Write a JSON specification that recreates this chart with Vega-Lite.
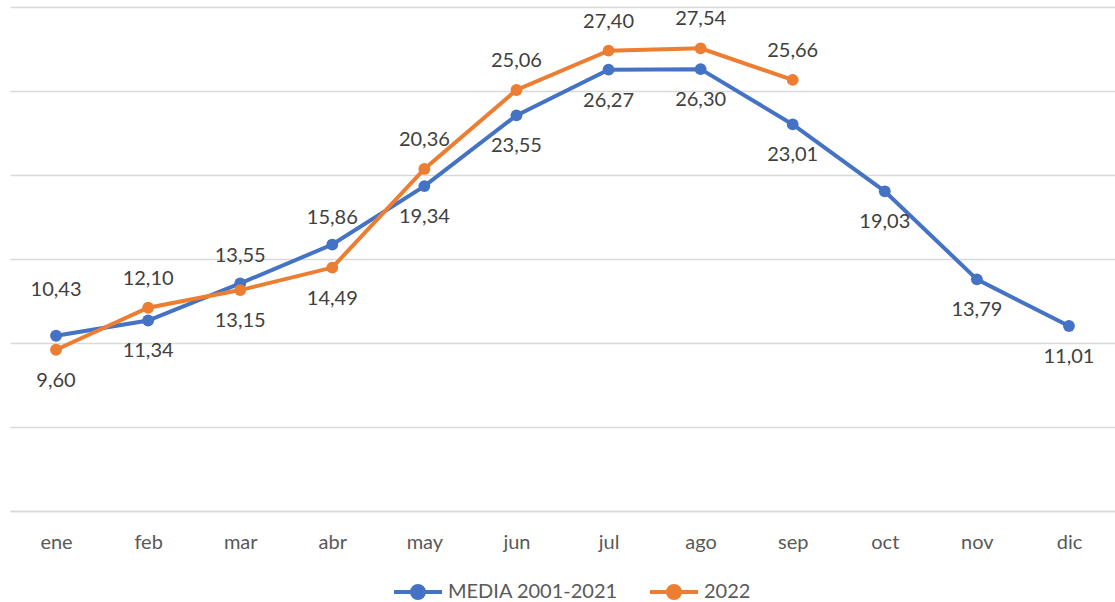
{
  "$schema": "https://vega.github.io/schema/vega-lite/v6.json",
  "width": 1105,
  "height": 504,
  "autosize": "none",
  "padding": {"left": 10, "top": 7, "right": 0, "bottom": 91},
  "background": "white",
  "config": {
    "locale": {"number": {"decimal": ",", "thousands": ".", "grouping": [3], "currency": ["", " €"]}},
    "view": {"stroke": null},
    "font": "Lato",
    "axis": {"labelFont": "Lato", "labelColor": "#595959", "labelFontSize": 20, "titleFontSize": 18},
    "legend": {"labelFont": "Lato"}
  },
  "data": {
    "values": [
      {"mes": "ene", "serie": "MEDIA 2001-2021", "temp": 10.43},
      {"mes": "feb", "serie": "MEDIA 2001-2021", "temp": 11.34},
      {"mes": "mar", "serie": "MEDIA 2001-2021", "temp": 13.55},
      {"mes": "abr", "serie": "MEDIA 2001-2021", "temp": 15.86},
      {"mes": "may", "serie": "MEDIA 2001-2021", "temp": 19.34},
      {"mes": "jun", "serie": "MEDIA 2001-2021", "temp": 23.55},
      {"mes": "jul", "serie": "MEDIA 2001-2021", "temp": 26.27},
      {"mes": "ago", "serie": "MEDIA 2001-2021", "temp": 26.30},
      {"mes": "sep", "serie": "MEDIA 2001-2021", "temp": 23.01},
      {"mes": "oct", "serie": "MEDIA 2001-2021", "temp": 19.03},
      {"mes": "nov", "serie": "MEDIA 2001-2021", "temp": 13.79},
      {"mes": "dic", "serie": "MEDIA 2001-2021", "temp": 11.01},
      {"mes": "ene", "serie": "2022", "temp": 9.60},
      {"mes": "feb", "serie": "2022", "temp": 12.10},
      {"mes": "mar", "serie": "2022", "temp": 13.15},
      {"mes": "abr", "serie": "2022", "temp": 14.49},
      {"mes": "may", "serie": "2022", "temp": 20.36},
      {"mes": "jun", "serie": "2022", "temp": 25.06},
      {"mes": "jul", "serie": "2022", "temp": 27.40},
      {"mes": "ago", "serie": "2022", "temp": 27.54},
      {"mes": "sep", "serie": "2022", "temp": 25.66}
    ]
  },
  "encoding": {
    "x": {
      "field": "mes", "type": "ordinal",
      "sort": ["ene", "feb", "mar", "abr", "may", "jun", "jul", "ago", "sep", "oct", "nov", "dic"],
      "scale": {"type": "point", "padding": 0.5},
      "axis": {"title": null, "labelAngle": 0, "ticks": false, "domain": true, "domainColor": "#d9d9d9", "domainWidth": 1.5, "labelPadding": 21, "labelFontSize": 20, "labelColor": "#595959", "grid": false}
    },
    "y": {
      "field": "temp", "type": "quantitative",
      "scale": {"domain": [0, 30], "nice": false},
      "axis": {"title": null, "labels": false, "ticks": false, "domain": false, "values": [0, 5, 10, 15, 20, 25, 30], "grid": true, "gridColor": "#d9d9d9", "gridWidth": 1.5}
    },
    "color": {
      "field": "serie", "type": "nominal",
      "scale": {"domain": ["MEDIA 2001-2021", "2022"], "range": ["#4472C4", "#ED7D31"]},
      "legend": {
        "title": null, "orient": "none", "legendX": 382, "legendY": 559, "direction": "horizontal",
        "labelFontSize": 20, "labelColor": "#595959", "labelOffset": 4, "columnPadding": 24, "labelLimit": 400,
        "symbolType": "M-1,0L1,0M-0.25,0A0.25,0.25 0 1,1 0.25,0A0.25,0.25 0 1,1 -0.25,0Z",
        "symbolSize": 2304, "symbolStrokeWidth": 4,
        "encode": {"symbols": {"update": {"fill": {"scale": "color", "field": "value"}, "stroke": {"scale": "color", "field": "value"}, "opacity": {"value": 1}}}}
      }
    }
  },
  "layer": [
    {
      "transform": [{"filter": "datum.serie === 'MEDIA 2001-2021'"}],
      "mark": {"type": "line", "strokeWidth": 4, "point": {"filled": true, "size": 140, "opacity": 1}}
    },
    {
      "transform": [{"filter": "datum.serie === '2022'"}],
      "mark": {"type": "line", "strokeWidth": 4, "point": {"filled": true, "size": 140, "opacity": 1}}
    },
    {
      "transform": [{"filter": "datum.serie === 'MEDIA 2001-2021' && datum.mes === 'ene'"}],
      "mark": {"type": "text", "fontSize": 20, "dy": -46, "baseline": "middle", "font": "Lato"},
      "encoding": {"text": {"field": "temp", "type": "quantitative", "format": ".2f"}, "color": {"value": "#404040"}}
    },
    {
      "transform": [{"filter": "datum.serie === 'MEDIA 2001-2021' && (datum.mes === 'mar' || datum.mes === 'abr')"}],
      "mark": {"type": "text", "fontSize": 20, "dy": -27, "baseline": "middle", "font": "Lato"},
      "encoding": {"text": {"field": "temp", "type": "quantitative", "format": ".2f"}, "color": {"value": "#404040"}}
    },
    {
      "transform": [{"filter": "datum.serie === 'MEDIA 2001-2021' && datum.mes !== 'ene' && datum.mes !== 'mar' && datum.mes !== 'abr'"}],
      "mark": {"type": "text", "fontSize": 20, "dy": 31, "baseline": "middle", "font": "Lato"},
      "encoding": {"text": {"field": "temp", "type": "quantitative", "format": ".2f"}, "color": {"value": "#404040"}}
    },
    {
      "transform": [{"filter": "datum.serie === '2022' && (datum.mes === 'ene' || datum.mes === 'mar' || datum.mes === 'abr')"}],
      "mark": {"type": "text", "fontSize": 20, "dy": 31, "baseline": "middle", "font": "Lato"},
      "encoding": {"text": {"field": "temp", "type": "quantitative", "format": ".2f"}, "color": {"value": "#404040"}}
    },
    {
      "transform": [{"filter": "datum.serie === '2022' && datum.mes !== 'ene' && datum.mes !== 'mar' && datum.mes !== 'abr'"}],
      "mark": {"type": "text", "fontSize": 20, "dy": -29, "baseline": "middle", "font": "Lato"},
      "encoding": {"text": {"field": "temp", "type": "quantitative", "format": ".2f"}, "color": {"value": "#404040"}}
    }
  ]
}
